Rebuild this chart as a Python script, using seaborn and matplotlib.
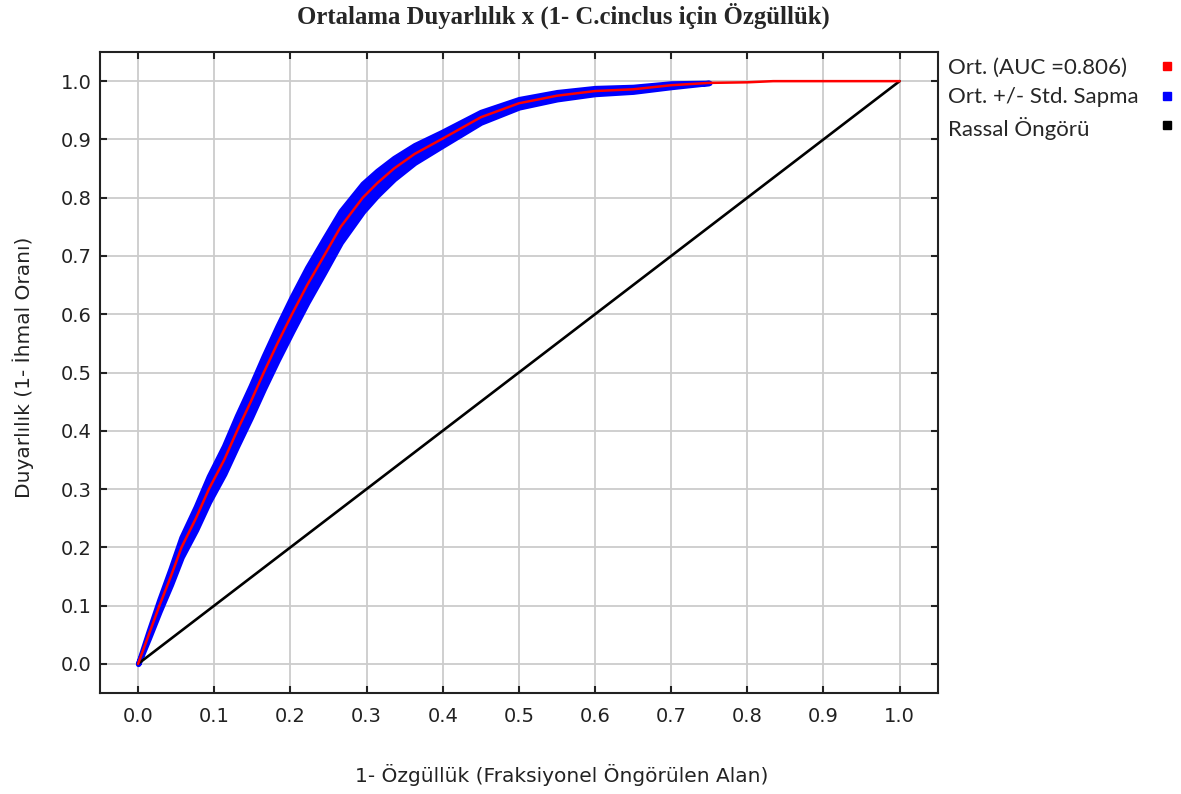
import numpy as np
import pandas as pd
import matplotlib
matplotlib.use("Agg")
import matplotlib.pyplot as plt
from matplotlib.lines import Line2D
import seaborn as sns

# Data
fpr = [0.0, 0.014, 0.028, 0.043, 0.057, 0.076, 0.093, 0.113, 0.130, 0.148,
       0.165, 0.183, 0.202, 0.222, 0.244, 0.266, 0.295, 0.314, 0.336, 0.363,
       0.398, 0.45, 0.50, 0.55, 0.60, 0.65, 0.70, 0.75, 0.80, 0.834, 1.0]
tpr_mean = [0.0, 0.05, 0.10, 0.15, 0.20, 0.25, 0.30, 0.35, 0.40, 0.45,
            0.50, 0.55, 0.60, 0.65, 0.70, 0.75, 0.80, 0.825, 0.85, 0.875,
            0.90, 0.938, 0.962, 0.975, 0.983, 0.986, 0.993, 0.997, 0.998, 1.0, 1.0]
tpr_std = [0.0, 0.006, 0.010, 0.014, 0.017, 0.020, 0.022, 0.024, 0.026, 0.027,
           0.028, 0.029, 0.030, 0.030, 0.029, 0.027, 0.024, 0.021, 0.018, 0.015,
           0.012, 0.009, 0.007, 0.006, 0.005, 0.004, 0.003, 0.0, 0.0, 0.0, 0.0]
random_x = [0.0, 1.0]
random_y = [0.0, 1.0]

title = "Ortalama Duyarlılık x (1- C.cinclus için Özgüllük)"
xlabel = "1- Özgüllük (Fraksiyonel Öngörülen Alan)"
ylabel = "Duyarlılık (1- İhmal Oranı)"
legend_labels = ["Ort. (AUC =0.806)", "Ort. +/- Std. Sapma", "Rassal Öngörü"]
legend_colors = ["#ff0000", "#0000ff", "#000000"]
ticks = [round(0.1 * i, 1) for i in range(11)]

sns.set_style("white")
plt.rcParams['font.family'] = ['DejaVu Sans']

fig = plt.figure(figsize=(11.81, 7.94), dpi=100)
ax = fig.add_axes([0.0847, 0.1272, 0.794 - 0.0847, 0.9345 - 0.1272])

df = pd.DataFrame({"x": fpr, "m": tpr_mean, "s": tpr_std})
band = df[df["x"] <= 0.75]
lo = band["m"] - band["s"]
hi = band["m"] + band["s"]

ax.fill_between(band["x"], lo, hi, facecolor="#0000ff", edgecolor="#0000ff",
                linewidth=4, joinstyle="round", zorder=2)

sns.lineplot(data=df, x="x", y="m", color="#ff0000", lw=1.8, ax=ax, zorder=4,
             sort=False, estimator=None)
sns.lineplot(x=random_x, y=random_y, color="black", lw=1.9, ax=ax, zorder=3,
             sort=False, estimator=None)

ax.set_xlim(-0.05, 1.05)
ax.set_ylim(-0.05, 1.05)
ax.set_xticks(ticks)
ax.set_yticks(ticks)
ax.set_xticklabels([f"{t:.1f}" for t in ticks], fontsize=14, color="#222222")
ax.set_yticklabels([f"{t:.1f}" for t in ticks], fontsize=14, color="#222222")
ax.tick_params(direction="in", length=5, width=1.5, top=True, right=True,
               bottom=True, left=True, colors="#222222")
ax.tick_params(axis="x", pad=10)
ax.tick_params(axis="y", pad=6)
ax.grid(True, color="#cccccc", lw=1.3)
ax.set_axisbelow(True)
for sp in ax.spines.values():
    sp.set_color("#222222")
    sp.set_linewidth(1.5)

ax.set_xlabel(xlabel, fontsize=14.5, color="#222222")
ax.set_ylabel(ylabel, fontsize=14.5, color="#222222")
ax.xaxis.set_label_coords((562 - 100) / 838, (693 - 775) / 641)
ax.yaxis.set_label_coords((23 - 100) / 838, (693 - 367) / 641)
ax.xaxis.label.set_va("center")
ax.yaxis.label.set_va("center")

fig.text(563 / 1181, 0.98, title, ha="center", va="center", fontsize=17.8,
         fontweight="bold", family=["Liberation Serif"])

# legend: text column and marker column
text_handles = [Line2D([], [], ls="none") for _ in legend_labels]
leg1 = ax.legend(text_handles, legend_labels, loc="upper left",
                 bbox_to_anchor=(948 / 1181, 1 - 58 / 794),
                 bbox_transform=fig.transFigure, frameon=False,
                 handlelength=0, handletextpad=0, borderpad=0, borderaxespad=0,
                 labelspacing=0.42, prop={"family": "Lato", "size": 16})
ax.add_artist(leg1)
mark_handles = [Line2D([], [], marker="s", ls="none", color=c, markersize=6)
                for c in legend_colors]
leg2 = ax.legend(mark_handles, [""] * 3, loc="upper left",
                 bbox_to_anchor=(1158 / 1181, 1 - 58 / 794),
                 bbox_transform=fig.transFigure, frameon=False,
                 handlelength=0.8, handletextpad=0, borderpad=0, borderaxespad=0,
                 labelspacing=0.42, prop={"family": "Lato", "size": 16})

fig.savefig("out.png", dpi=100)
